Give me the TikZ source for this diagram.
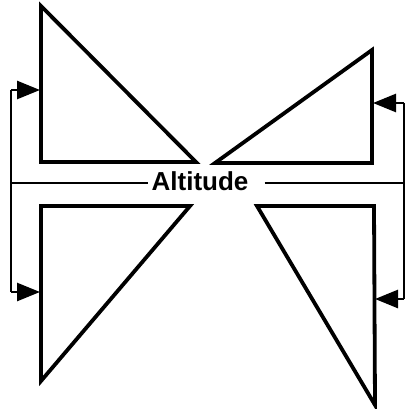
\documentclass[tikz,border=0pt]{standalone}
\usepackage{fontspec}
\setmainfont{Liberation Sans}
\usetikzlibrary{arrows.meta}
\begin{document}
\begin{tikzpicture}[x=1pt,y=-1pt,
  tri/.style={line width=3.8pt, line join=miter},
  conn/.style={line width=2.6pt},
  arr/.style={-{Triangle[length=23pt,width=18pt]}},
  lbl/.style={font=\bfseries\fontsize{26}{26}\selectfont, inner sep=0pt}]
\useasboundingbox (0,0) rectangle (407,409);
% triangles
\draw[tri] (41,6) -- (41,162) -- (196,162) -- cycle;
\draw[tri] (372,50) -- (372,163) -- (215,163) -- cycle;
\draw[tri] (41,206) -- (190,206) -- (41,381) -- cycle;
\draw[tri] (257,206) -- (374,206) -- (375,405) -- cycle;
% label
\node[lbl] (lab) at (200,181) {Altitude};
% named points
\coordinate (lj) at (11,183);
\coordinate (rj) at (404,183);
\coordinate (lc1) at (11,90);
\coordinate (lc2) at (11,292);
\coordinate (rc1) at (404,103);
\coordinate (rc2) at (404,299);
\coordinate (lt1) at (40,90);
\coordinate (lt2) at (40,292);
\coordinate (rt1) at (373,103);
\coordinate (rt2) at (375,299);
\coordinate (lend) at ([xshift=-3pt]lab.west |- lj);
\coordinate (rend) at ([xshift=16pt]lab.east |- rj);
% connectors
\draw[conn] (lj) -- (lend);
\draw[conn] (rend) -- (rj);
\draw[conn] (lc1) -- (lc2);
\draw[conn] (rc1) -- (rc2);
\draw[conn,arr] (lc1) -- (lt1);
\draw[conn,arr] (lc2) -- (lt2);
\draw[conn,arr] (rc1) -- (rt1);
\draw[conn,arr] (rc2) -- (rt2);
\end{tikzpicture}
\end{document}
